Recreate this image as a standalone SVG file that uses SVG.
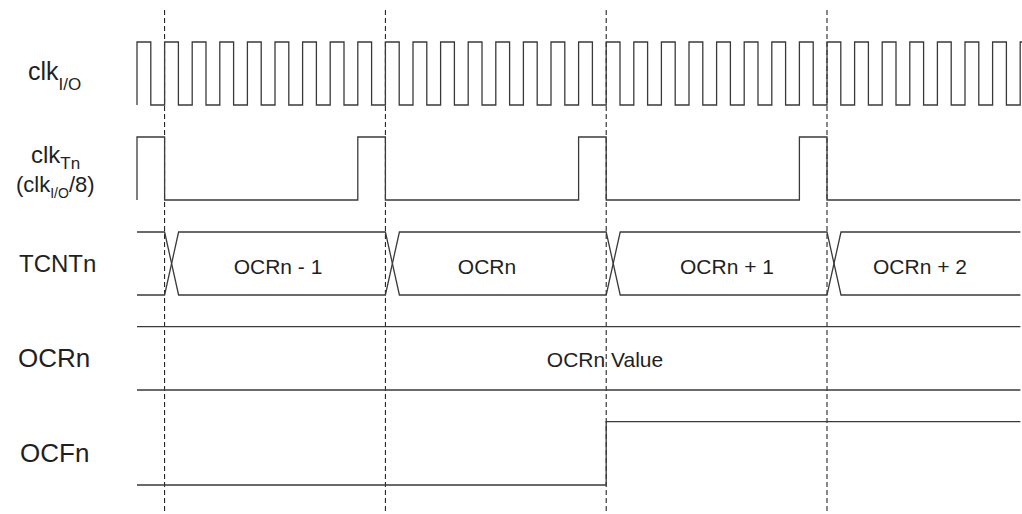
<svg xmlns="http://www.w3.org/2000/svg" width="1022" height="514" viewBox="0 0 1022 514">
<style>
.sig{fill:none;stroke:#3a3a3a;stroke-width:1.3;stroke-linejoin:miter}
.grid{fill:none;stroke:#111;stroke-width:1;stroke-dasharray:5 3}
.lbl{font-family:"Liberation Sans",Arial,sans-serif;fill:#231f20}
.big{font-size:25px}
.val{font-family:"Liberation Sans",Arial,sans-serif;fill:#231f20;font-size:21px;text-anchor:middle}
</style>
<rect width="1022" height="514" fill="#fff"/>
<g id="connectors">
<line class="grid" x1="164.6" y1="10" x2="164.6" y2="514"/>
<line class="grid" x1="385.4" y1="10" x2="385.4" y2="514"/>
<line class="grid" x1="606.2" y1="10" x2="606.2" y2="514"/>
<line class="grid" x1="827" y1="10" x2="827" y2="514"/>
</g>
<g id="clkio">
<text class="lbl" x="28" y="80" font-size="25">clk<tspan font-size="17" dy="10">I/O</tspan></text>
<path class="sig" d="M137,105 v-63 h13.8 v63 h13.8 v-63 h13.8 v63 h13.8 v-63 h13.8 v63 h13.8 v-63 h13.8 v63 h13.8 v-63 h13.8 v63 h13.8 v-63 h13.8 v63 h13.8 v-63 h13.8 v63 h13.8 v-63 h13.8 v63 h13.8 v-63 h13.8 v63 h13.8 v-63 h13.8 v63 h13.8 v-63 h13.8 v63 h13.8 v-63 h13.8 v63 h13.8 v-63 h13.8 v63 h13.8 v-63 h13.8 v63 h13.8 v-63 h13.8 v63 h13.8 v-63 h13.8 v63 h13.8 v-63 h13.8 v63 h13.8 v-63 h13.8 v63 h13.8 v-63 h13.8 v63 h13.8 v-63 h13.8 v63 h13.8 v-63 h13.8 v63 h13.8 v-63 h13.8 v63 h13.8 v-63 h13.8 v63 h13.8 v-63 h13.8 v63 h13.8 v-63 h13.8 v63 h13.8 v-63 h13.8 v63 h13.8 v-63 h13.8 v63 h13.8 v-63 h13.8 v63 h13.8 v-63 h13.8 v63 h13.8 v-63 h13.8 v63 h13.8 v-63 h13.8 v63 h13.8 v-63 h13.8 v63 h13.8 v-63 h13.8 v63 h13.8 v-63 h13.8 v63 h13.8 v-63 h13.8 v63 h13.8"/>
</g>
<g id="clktn">
<text class="lbl" x="31" y="163" font-size="24">clk<tspan font-size="17" dy="6">Tn</tspan></text>
<text class="lbl" x="16" y="192" font-size="22">(clk<tspan font-size="14" dy="6">I/O</tspan><tspan dy="-6">/8)</tspan></text>
<path class="sig" d="M137,200 V137 H164.6 V200 H357.8 V137 H385.4 V200 H578.6 V137 H606.2 V200 H799.4 V137 H827 V200 H1020.4"/>
</g>
<g id="tcntn">
<text class="lbl" x="19" y="272" font-size="24">TCNTn</text>
<path class="sig" d="M137,232 H164.6 L178.6,295 H385.4 L399.4,232 H606.2 L620.2,295 H827 L841,232 H1020.4"/>
<path class="sig" d="M137,295 H164.6 L178.6,232 H385.4 L399.4,295 H606.2 L620.2,232 H827 L841,295 H1020.4"/>
<text class="val" x="278" y="274">OCRn - 1</text>
<text class="val" x="487" y="274">OCRn</text>
<text class="val" x="727" y="274">OCRn + 1</text>
<text class="val" x="920" y="274">OCRn + 2</text>
</g>
<g id="ocrn">
<text class="lbl" x="18" y="367" font-size="26">OCRn</text>
<path class="sig" d="M137,326.7 H1020.4 M137,390 H1020.4"/>
<text class="val" x="605" y="367">OCRn Value</text>
</g>
<g id="ocfn">
<text class="lbl" x="20" y="462" font-size="26">OCFn</text>
<path class="sig" d="M137,485 H606.2 V421.7 H1020.4"/>
</g>
</svg>
